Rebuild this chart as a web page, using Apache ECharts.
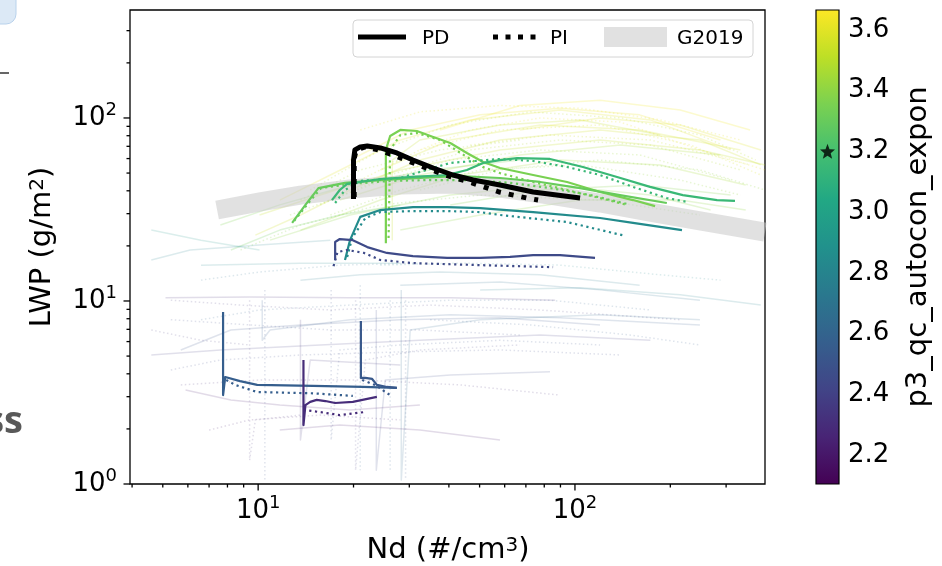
<!DOCTYPE html>
<html><head><meta charset="utf-8">
<script src="https://cdn.jsdelivr.net/npm/echarts@6/dist/echarts.min.js"></script>
<style>html,body{margin:0;padding:0;background:#fff}#c{width:942px;height:566px}</style>
</head><body><div id="c"></div>
<script>
// ---------- axes / ticks ----------
const ndRange = [3.94, 398];
const lwpRange = [1, 389];
const ndMajorTicks = [10, 100];
const ndMinorTicks = [4,5,6,7,8,9,20,30,40,50,60,70,80,90,200,300];
const lwpMajorTicks = [1, 10, 100];
const lwpMinorTicks = [2,3,4,5,6,7,8,9,20,30,40,50,60,70,80,90,200,300];
const cbarRange = [2.105, 3.665];
const cbarTicks = [2.2, 2.4, 2.6, 2.8, 3.0, 3.2, 3.4, 3.6];
const defaultParam = 3.2;

// ---------- default run (black) ----------
const pdLine = [[20.0,36.1],[20.0,58.9],[20.2,66.9],[21.0,69.5],[22.1,70.3],[24.3,68.6],[27.4,64.4],[30.8,58.9],[35.7,53.3],[41.2,48.8],[47.7,45.8],[58.0,43.0],[73.8,39.4],[103.8,36.5]];
const piLine = [[20.1,37.0],[20.1,60.0],[20.4,66.9],[21.8,69.5],[23.9,66.9],[26.7,62.8],[32.0,55.4],[38.9,48.8],[47.3,44.2],[57.6,39.4],[70.6,36.5],[76.5,35.6]];
const g2019Line = [[7.42,31.4],[10.14,34.8],[13.6,37.9],[19.5,40.9],[28.1,43.0],[40.4,43.6],[58.0,41.4],[83.4,37.9],[120,34.3],[172.6,30.6],[248,27.4],[398,23.8]];

// ---------- highlighted ensemble members ----------
const highlightParams = [3.35, 3.30, 3.15, 2.85, 2.45, 2.57, 2.53, 2.30];
const lineA_PD = [[25.3,20.7],[25.3,66.9],[26.1,79.7],[28.1,86.0],[31.7,84.9],[35.7,78.7],[40.4,73.0],[45.6,64.4],[51.3,57.5],[58.0,53.3],[73.8,48.8],[94.4,44.7],[120,39.4],[152.5,35.6],[179,33.0]];
const lineA_PI = [[25.8,22.1],[26.1,66.9],[28.1,80.7],[31.7,82.8],[37.5,75.8],[45.6,61.2],[51.3,53.9],[58.0,50.0],[73.8,44.7],[94.4,40.4],[120,36.5],[146,33.5]];
const lineB_PD = [[12.8,26.7],[14.1,33.5],[15.5,41.4],[18.8,44.2],[24.3,45.8],[32.4,47.0],[43.4,48.2],[58.0,47.0],[77.6,44.7],[103.8,41.4],[138.7,37.9],[195,34.3]];
const lineB_PI = [[13.0,27.4],[14.4,34.3],[15.8,41.4],[19.5,43.6],[26.1,45.3],[34.9,45.8],[46.7,45.8],[62.4,44.2],[83.4,41.4],[111.6,37.9],[146,33.9]];
const lineC_PD = [[17.1,35.6],[18.1,40.4],[19.1,43.6],[24.3,46.4],[30.8,47.6],[39.5,48.8],[45.6,52.0],[51.3,56.8],[58.0,58.9],[65.7,60.4],[83.4,59.7],[106,54.0],[135.8,47.6],[172.6,42.0],[219,37.9],[280.8,35.6],[320,35.2]];
const lineC_PI = [[17.5,34.3],[18.8,40.4],[21.0,45.3],[28.1,47.0],[32.4,50.7],[40.4,56.8],[58.0,59.7],[73.8,58.2],[94.4,54.0],[120,48.8],[152.5,42.0],[195,36.5],[225.7,34.8]];
const lineD_PD = [[18.8,16.75],[19.5,21.5],[21.0,28.8],[24.3,31.4],[30.8,32.6],[39.5,32.6],[50.2,32.2],[73.8,30.6],[120,28.4],[152.5,26.7],[217.7,24.4]];
const lineD_PI = [[19.1,17.4],[19.8,22.1],[21.8,28.4],[24.3,30.6],[30.8,31.0],[39.5,31.0],[50.2,30.6],[58.0,29.5],[94.4,27.0],[144,22.7]];
const lineF_PD = [[17.5,16.75],[17.5,21.0],[18.1,21.8],[19.9,21.5],[22.1,19.7],[25.5,18.3],[30.8,17.6],[39.5,17.2],[50.2,17.2],[62.4,17.4],[73.8,17.8],[89.7,17.8],[115.7,17.2]];
const lineF_PI = [[17.3,15.5],[17.8,18.5],[19.1,19.0],[21.6,18.3],[24.3,16.75],[30.8,16.1],[50.2,15.7],[85.3,15.3]];
const lineG_PD = [[7.75,8.71],[7.75,3.06],[7.87,3.84],[8.77,3.65],[9.93,3.48],[14.9,3.44],[21.4,3.39],[27.4,3.35]];
const lineG_PI = [[7.93,3.70],[8.46,3.48],[9.93,3.18],[14.9,3.13],[19.9,3.03]];
const lineH_PD = [[21.1,7.78],[21.1,3.80],[21.8,3.80],[22.9,3.75],[23.7,3.48],[25.5,3.39],[27.4,3.35]];
const lineH_PI = [[21.3,3.70],[22.1,3.61],[23.7,3.44],[25.2,3.18],[26.1,3.06]];
const lineI_PD = [[13.9,4.76],[13.9,2.10],[14.1,2.70],[14.6,2.81],[15.3,2.88],[16.3,2.84],[17.5,2.77],[19.9,2.81],[23.7,2.99]];
const lineI_PI = [[13.9,2.54],[15.7,2.47],[18.1,2.38],[21.6,2.47]];

// ---------- faint ensemble members ----------
const faintParams = [3.55,3.60,3.50,3.62,3.45,3.42,3.40,3.58,3.52,3.38,3.36,3.63,3.48,3.44,3.40,3.64,
                     3.52,3.46,3.57,3.41,3.38,3.61,3.32,3.54,3.59,3.47,
                     2.30,2.50,2.45,2.60,2.55,2.25,2.20,2.75,2.50,2.40,2.65,2.80,2.35,2.85,2.30,2.45,2.70,2.35,2.60,2.50,2.90,
                     2.70,2.55,2.40,2.30,2.25,2.50,2.60,2.80,2.85,2.45,2.35];
const faintDotted = [0,0,1,0,0,1,0,1,0,1,0,1,1,1,0,0,
                     0,0,0,1,0,1,0,1,0,1,
                     0,0,1,1,0,0,1,0,1,1,0,0,1,1,1,0,1,1,1,1,0,
                     0,1,0,1,0,1,1,0,0,1,0];
const faintLines = [
  [[9.8,22.9],[13.6,29.5],[19.5,40.4],[32.4,58.9],[58,75.8],[120,86],[248,75.8],[386,55.4]],
  [[11.7,35.6],[16.9,48.8],[28.1,75.8],[46.7,97.6],[89.7,110.6],[173,97.6],[310,66.9]],
  [[14.6,40.4],[24.3,66.9],[40.4,91.6],[72.2,108],[139,100],[248,80.7],[372,58.9]],
  [[19.5,58.9],[30.2,86],[50.2,104],[89.7,113],[160,104],[288,75.8]],
  [[13.6,24.4],[24.3,35.6],[43.4,48.8],[89.7,58.9],[186,55.4],[346,43.0]],
  [[16.9,29.5],[28.1,40.4],[50.2,52.0],[104,55.4],[215,45.8],[333,37.9]],
  [[10.9,21.5],[19.5,29.5],[40.4,37.9],[83.4,43.0],[173,37.9],[268,31.4]],
  [[21.0,45.8],[32.4,66.9],[58,86],[120,91.6],[232,71.1],[386,48.8]],
  [[26.5,21.5],[26.5,58.9],[32.4,75.8],[58,91.6],[104,97.6],[186,80.7]],
  [[8.8,19.0],[13.6,26.0],[24.3,33.5],[50.2,37.9],[120,35.6],[248,29.5]],
  [[7.6,26.0],[11.7,33.5],[19.5,43.0],[34.9,52.0],[67,58.9]],
  [[32.4,66.9],[46.7,86],[77.6,100],[139,95],[248,66.9],[398,52]],
  [[15.7,33.5],[26.1,48.8],[46.7,66.9],[89.7,75.8],[173,71.1],[333,52]],
  [[12.6,29.5],[22.6,43.0],[40.4,58.9],[77.6,66.9],[160,62.8],[310,45.8]],
  [[28.1,24.4],[50.2,29.5],[104,35.6],[215,35.6],[346,31.4]],
  [[37.5,86],[67,117],[120,125],[215,110.6],[357,86]],
  [[10.1,29.5],[15.7,37.9],[28.1,52.0],[58,66.9],[120,75.8],[248,66.9],[398,55.4]],
  [[18.1,35.6],[32.4,48.8],[67,62.8],[139,71.1],[288,62.8]],
  [[24.3,52.0],[40.4,75.8],[77.6,91.6],[160,86],[333,66.9]],
  [[32.4,40.4],[58,52.0],[120,58.9],[248,52.0],[398,40.4]],
  [[40.4,33.5],[77.6,40.4],[160,43.0],[310,37.9]],
  [[21.0,86],[32.4,108],[58,117],[104,113],[186,97.6],[333,75.8]],
  [[8.2,19.0],[11.7,24.4],[18.1,29.5],[28.1,33.5]],
  [[46.7,71.1],[83.4,80.7],[173,75.8],[357,55.4]],
  [[67,86],[120,100],[215,91.6],[386,66.9]],
  [[13.6,35.6],[21.0,52.0],[37.5,66.9],[67,75.8]],
  [[5.1,10.4],[9.4,10.5],[19.5,10.4],[40.4,10.4],[86.6,10.1]],
  [[5.7,5.4],[8.2,6.94],[13.6,7.4],[28.1,7.9],[58,8.1],[120,7.4]],
  [[5.3,4.2],[7.6,4.76],[13.6,5.07],[28.1,5.27],[58,5.4],[139,5.07]],
  [[6.6,7.9],[10.1,8.93],[19.5,9.5],[40.4,10.1],[83.4,10.1],[173,8.93]],
  [[10.3,10.1],[10.3,6.1],[10.9,6.94],[19.5,7.9],[40.4,8.4],[89.7,8.1],[248,7.4]],
  [[5.9,3.26],[8.2,2.88],[11.7,2.7],[19.5,2.54],[32.4,2.7]],
  [[7.0,1.97],[9.4,2.24],[15.7,2.38],[28.1,2.24]],
  [[13.6,13.0],[21.0,13.9],[37.5,14.4],[77.6,13.9],[160,12.2]],
  [[17.0,11.5],[17.0,1.74],[18.1,5.4],[28.1,5.75],[58,6.1],[120,5.75]],
  [[20.3,10.1],[20.3,1.19],[21.8,4.76],[32.4,5.4],[67,5.75]],
  [[28.3,11.5],[28.3,1.05],[30.2,6.94],[50.2,7.9],[120,8.4],[248,7.9]],
  [[4.6,16.75],[6.1,19.0],[10.1,20.2],[16.9,21.5]],
  [[4.6,6.94],[6.6,6.1],[9.4,5.75]],
  [[24.3,15.7],[43.4,16.1],[89.7,15.7],[186,13.9],[288,13.0]],
  [[9.4,10.1],[9.4,1.35],[9.8,2.24],[13.6,2.38]],
  [[23.6,8.93],[23.6,1.19],[25.2,3.70],[40.4,3.94],[83.4,4.1]],
  [[6.6,13.0],[10.1,14.4],[18.1,15.7],[32.4,16.1]],
  [[5.3,10.1],[8.8,9.5],[16.9,8.93],[34.9,9.5],[77.6,8.93],[215,7.9]],
  [[21.0,12.2],[21.0,1.19]],
  [[29.2,10.1],[29.2,1.05]],
  [[4.6,24.4],[6.6,21.5],[10.1,19.0]],
  [[28.1,12.2],[58,12.7],[120,11.5],[248,10.1]],
  [[34.9,7.9],[72.2,7.4],[149,6.52],[248,5.75]],
  [[4.6,5.07],[7.6,5.4],[15.7,5.75],[32.4,6.1],[77.6,6.52],[173,6.1]],
  [[5.7,3.48],[10.1,3.70],[21.0,3.70],[43.4,3.48],[89.7,3.06]],
  [[11.7,1.97],[18.1,2.10],[32.4,1.97],[58,1.74]],
  [[10.5,11.5],[10.5,1.05]],
  [[26.1,10.1],[26.1,1.19]],
  [[50.2,11.5],[104,11.8],[215,10.8],[386,9.5]],
  [[6.6,15.7],[13.6,16.1],[28.1,16.1]],
  [[5.3,7.9],[9.4,7.4],[16.9,6.94],[32.4,6.94],[67,6.52]],
  [[13.6,7.9],[13.6,1.74],[14.6,4.76],[28.1,4.47]]
];

// ---------- helpers ----------
const FONT = 'DejaVu Sans';
const VIR = ['#440154','#482475','#414487','#355f8d','#2a788e','#21918c','#22a884','#44bf70','#7ad151','#bddf26','#fde725'];
function toRgb(h){return [parseInt(h.slice(1,3),16),parseInt(h.slice(3,5),16),parseInt(h.slice(5,7),16)];}
function viridis(v){
  let t=(v-cbarRange[0])/(cbarRange[1]-cbarRange[0]); t=Math.min(1,Math.max(0,t));
  const s=t*(VIR.length-1); const i=Math.min(VIR.length-2,Math.floor(s)); const f=s-i;
  const a=toRgb(VIR[i]), b=toRgb(VIR[i+1]);
  return 'rgb('+[0,1,2].map(k=>Math.round(a[k]+(b[k]-a[k])*f)).join(',')+')';
}
function lineSeries(data,color,width,dash,opacity,z){
  return {type:'line',xAxisIndex:0,yAxisIndex:0,data:data,showSymbol:false,symbol:'none',silent:true,
    animation:false,z:z,smooth:false,
    lineStyle:{color:color,width:width,type:dash||'solid',opacity:opacity,cap:'butt',join:'round'}};
}
function tickSeries(values,dim,len){
  return {type:'custom',xAxisIndex:0,yAxisIndex:0,silent:true,clip:false,z:6,animation:false,
    data: values.map(v=> dim==='x' ? [v,lwpRange[0]] : [ndRange[0],v]),
    renderItem:(params,api)=>{
      const p=api.coord([api.value(0),api.value(1)]);
      const shape = dim==='x' ? {x1:p[0],y1:p[1],x2:p[0],y2:p[1]+len} : {x1:p[0],y1:p[1],x2:p[0]-len,y2:p[1]};
      return {type:'line',shape:shape,style:{stroke:'#000',lineWidth:1.3}};
    }};
}
function supLabel(v){
  const e=Math.log10(v);
  if(Math.abs(e-Math.round(e))>1e-4) return '';
  return '{m|10}{s|'+Math.round(e)+'}';
}
const tickRich = {
  m:{fontSize:26,fontFamily:FONT,color:'#000',lineHeight:34},
  s:{fontSize:18,fontFamily:FONT,color:'#000',lineHeight:18,verticalAlign:'top'}
};

// ---------- series ----------
const series = [];
faintLines.forEach((pts,i)=>{
  const upper = faintParams[i] > 3.0;
  series.push(lineSeries(pts, viridis(faintParams[i]), 1.5, faintDotted[i]?[1.5,2.5]:'solid', upper?0.22:0.16, 1));
});
series.push(lineSeries(g2019Line, 'rgb(200,200,200)', 19, 'solid', 0.55, 2));
const hlPD=[lineA_PD,lineB_PD,lineC_PD,lineD_PD,lineF_PD,lineG_PD,lineH_PD,lineI_PD];
const hlPI=[lineA_PI,lineB_PI,lineC_PI,lineD_PI,lineF_PI,lineG_PI,lineH_PI,lineI_PI];
hlPD.forEach((pts,i)=>{
  const c=viridis(highlightParams[i]);
  series.push(lineSeries(hlPI[i], c, 2.2, [2.2,3.6], 1, 3));
  series.push(lineSeries(pts, c, 2.2, 'solid', 1, 3));
});
series.push(lineSeries(piLine, '#000', 5, [5,8], 1, 4));
series.push(lineSeries(pdLine, '#000', 5, 'solid', 1, 4));
series.push(tickSeries(ndMajorTicks,'x',6.5));
series.push(tickSeries(ndMinorTicks,'x',3.5));
series.push(tickSeries(lwpMajorTicks,'y',6.5));
series.push(tickSeries(lwpMinorTicks,'y',3.5));
// colorbar
series.push({type:'custom',xAxisIndex:1,yAxisIndex:1,silent:true,clip:false,z:3,animation:false,
  data:[[0,cbarRange[0],cbarRange[1]]],
  encode:{x:0,y:1},
  renderItem:(params,api)=>{
    const p0=api.coord([0,api.value(2)]);
    const p1=api.coord([1,api.value(1)]);
    const stops=VIR.slice().reverse().map((c,i)=>({offset:i/(VIR.length-1),color:c}));
    return {type:'rect',shape:{x:p0[0],y:p0[1],width:p1[0]-p0[0],height:p1[1]-p0[1]},
      style:{fill:new echarts.graphic.LinearGradient(0,0,0,1,stops),stroke:'#000',lineWidth:1.2}};
  }});
series.push({type:'scatter',xAxisIndex:1,yAxisIndex:1,silent:true,z:5,animation:false,
  data:[[0.5,defaultParam]],
  symbol:'path://M12,1 L14.9,8.6 L23,9 L16.7,14.1 L18.8,22 L12,17.6 L5.2,22 L7.3,14.1 L1,9 L9.1,8.6 Z',
  symbolSize:15,itemStyle:{color:'#000'}});

const option = {
  animation:false,
  backgroundColor:'#fff',
  grid:[
    {left:130,top:10,width:635,height:474,show:true,borderColor:'#000',borderWidth:1.3,backgroundColor:'transparent',containLabel:false,outerBoundsMode:'none'},
    {left:816,top:10,width:23,height:474,show:false,containLabel:false,outerBoundsMode:'none'}
  ],
  xAxis:[
    {type:'log',logBase:10,gridIndex:0,min:ndRange[0],max:ndRange[1],axisLine:{show:false},axisTick:{show:false},
     splitLine:{show:false},minorTick:{show:false},minorSplitLine:{show:false},
     axisLabel:{show:true,margin:10,formatter:supLabel,rich:tickRich}},
    {type:'value',gridIndex:1,min:0,max:1,show:false}
  ],
  yAxis:[
    {type:'log',logBase:10,gridIndex:0,min:lwpRange[0],max:lwpRange[1],axisLine:{show:false},axisTick:{show:false},
     splitLine:{show:false},minorTick:{show:false},minorSplitLine:{show:false},
     axisLabel:{show:true,margin:13,formatter:supLabel,rich:tickRich}},
    {type:'value',gridIndex:1,min:cbarRange[0],max:cbarRange[1],position:'right',axisLine:{show:false},splitLine:{show:false},
     axisTick:{show:true,length:6.5,customValues:cbarTicks,lineStyle:{color:'#000',width:1.3}},
     axisLabel:{show:true,customValues:cbarTicks,formatter:v=>Number(v).toFixed(1),fontSize:26,fontFamily:FONT,color:'#000',margin:9}}
  ],
  series:series,
  graphic:[
    // slide remnants at the left edge
    {type:'rect',shape:{x:-12,y:-12,width:28,height:36,r:10},style:{fill:'#dce9f6',stroke:'#b9d2ec',lineWidth:1},z:1},
    {type:'line',shape:{x1:0,y1:73,x2:9,y2:73},style:{stroke:'#333',lineWidth:1.5}},
    {type:'text',x:23,y:441,style:{text:'ss',font:'bold 38px "Open Sans"',fill:'#595959',textAlign:'right',textVerticalAlign:'bottom'}},
    // axis titles
    {type:'text',x:42,y:247,rotation:Math.PI/2,z:10,style:{text:'LWP (g/m{s|2})',fontSize:29,fontFamily:FONT,fill:'#000',align:'center',verticalAlign:'middle',
      rich:{s:{fontSize:20,fontFamily:FONT,fill:'#000',verticalAlign:'top',lineHeight:20}}}},
    {type:'text',x:448,y:550,z:10,style:{text:'Nd (#/cm{s|3})',fontSize:29,fontFamily:FONT,fill:'#000',align:'center',verticalAlign:'middle',
      rich:{s:{fontSize:20,fontFamily:FONT,fill:'#000',verticalAlign:'top',lineHeight:20}}}},
    {type:'text',x:918,y:247,rotation:Math.PI/2,z:10,style:{text:'p3_qc_autocon_expon',fontSize:29,fontFamily:FONT,fill:'#000',align:'center',verticalAlign:'middle'}},
    // legend
    {type:'rect',z:20,shape:{x:353,y:20,width:400,height:37,r:4},style:{fill:'rgba(255,255,255,0.85)',stroke:'#d4d4d4',lineWidth:1}},
    {type:'line',z:21,shape:{x1:358,y1:37,x2:406,y2:37},style:{stroke:'#000',lineWidth:5}},
    {type:'text',z:21,x:422,y:38.5,style:{text:'PD',fontSize:20,fontFamily:FONT,fill:'#000',align:'left',verticalAlign:'middle'}},
    {type:'line',z:21,shape:{x1:493,y1:37,x2:537,y2:37},style:{stroke:'#000',lineWidth:5,lineDash:[5,7.5]}},
    {type:'text',z:21,x:550,y:38.5,style:{text:'PI',fontSize:20,fontFamily:FONT,fill:'#000',align:'left',verticalAlign:'middle'}},
    {type:'rect',z:21,shape:{x:604,y:27,width:63,height:20},style:{fill:'#e1e1e1'}},
    {type:'text',z:21,x:677,y:38.5,style:{text:'G2019',fontSize:20,fontFamily:FONT,fill:'#000',align:'left',verticalAlign:'middle'}}
  ]
};
const chart = echarts.init(document.getElementById('c'), null, {renderer:'canvas'});
chart.setOption(option);
</script>
</body></html>
